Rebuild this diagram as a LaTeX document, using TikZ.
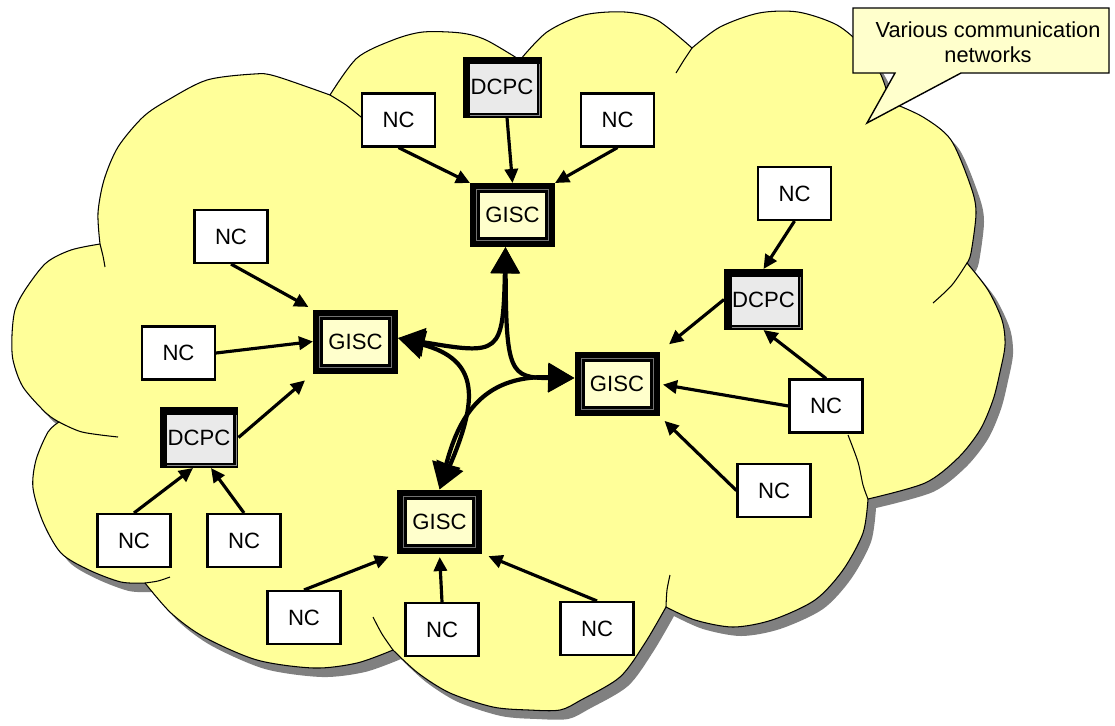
\documentclass[tikz,border=0pt]{standalone}
\usepackage{fontspec}
\setmainfont{Liberation Sans}
\usetikzlibrary{arrows.meta}
\definecolor{cloudfill}{HTML}{FFFF99}
\definecolor{paleyellow}{HTML}{FFFFCC}
\definecolor{dcpcgray}{HTML}{EAEAEA}
\definecolor{shadowgray}{HTML}{808080}
\tikzset{
  nc/.style    = {rectangle, draw=black, line width=1.2pt, fill=white,
                  minimum width=1.46cm, minimum height=1.06cm, inner sep=0pt,
                  font=\fontsize{12.6}{14.4}\selectfont},
  gisc/.style  = {rectangle, fill=black, minimum width=1.7cm, minimum height=1.28cm,
                  inner sep=0pt, outer sep=0pt, font=\fontsize{12.6}{14.4}\selectfont,
                  path picture={
                    \draw[black!55, line width=0.4pt]
                      ([xshift=0.13cm,yshift=0.13cm]path picture bounding box.south west) rectangle
                      ([xshift=-0.13cm,yshift=-0.13cm]path picture bounding box.north east);
                    \fill[paleyellow]
                      ([xshift=0.2cm,yshift=0.2cm]path picture bounding box.south west) rectangle
                      ([xshift=-0.2cm,yshift=-0.2cm]path picture bounding box.north east);}},
  dcpc/.style  = {rectangle, fill=black, minimum width=1.58cm, minimum height=1.22cm,
                  inner sep=0pt, outer sep=0pt, font=\fontsize{12.6}{14.4}\selectfont,
                  path picture={
                    \fill[dcpcgray]
                      ([xshift=0.15cm,yshift=0.1cm]path picture bounding box.south west) rectangle
                      ([xshift=-0.1cm,yshift=-0.15cm]path picture bounding box.north east);
                    \draw[black!45, line width=0.4pt]
                      ([xshift=0.15cm,yshift=0.05cm]path picture bounding box.south west) -|
                      ([xshift=-0.05cm,yshift=-0.15cm]path picture bounding box.north east);}},
  feed/.style  = {-{Triangle[length=8pt,width=7.5pt]}, line width=1.8pt},
  trunk/.style = {{Triangle[length=15pt,width=16pt]}-{Triangle[length=15pt,width=16pt]},
                  line width=2.4pt},
  cloudedge/.style = {draw=black, line width=0.6pt},
  callout/.style   = {fill=paleyellow, draw=black, line width=0.8pt},
}
% outline of the network cloud, one smooth piece per lobe
\newcommand\cloudoutline{%
  plot[smooth] coordinates {(59,422) (46,413) (23,387) (13,360) (12,335) (15,310) (25,290) (46,263) (71,250) (100,244)}
  -- plot[smooth] coordinates {(100,244) (98,213) (104,180) (118,147) (143,117) (168,100) (207,80) (254,74) (275,76) (330,95)}
  -- plot[smooth] coordinates {(330,95) (357,58) (393,40) (423,32) (461,33) (486,40) (520,60)}
  -- plot[smooth] coordinates {(520,60) (547,32) (584,15) (625,12) (657,20) (692,48)}
  -- plot[smooth] coordinates {(692,48) (720,27) (759,13) (798,12) (837,25) (864,48) (881,75) (890,102)}
  -- plot[smooth] coordinates {(890,102) (923,117) (951,140) (971,187) (976,213) (971,253) (967,263)}
  -- plot[smooth] coordinates {(967,263) (988,290) (1002,320) (1005,345) (1000,372) (993,400) (980,430) (958,458) (925,483) (868,499)}
  -- plot[smooth] coordinates {(868,499) (863,533) (843,570) (815,600) (772,620) (733,627) (695,620) (666,607)}
  -- plot[smooth] coordinates {(666,607) (645,643) (620,677) (581,700) (560,710) (529,710) (493,707) (450,693) (418,673) (393,650)}
  -- plot[smooth] coordinates {(393,650) (357,663) (314,668) (257,660) (204,637) (171,613) (145,583)}
  -- plot[smooth] coordinates {(145,583) (121,582) (89,570) (61,553) (43,522) (33,488) (36,460) (48,432) (59,422)}
  -- cycle}

\begin{document}
\begin{tikzpicture}[x=0.02cm, y=-0.02cm]
  \useasboundingbox (0,0) rectangle (1115,725);

  % cloud
  \fill[shadowgray, shift={(8,9)}] \cloudoutline;
  \filldraw[fill=cloudfill, cloudedge] \cloudoutline;
  \draw[cloudedge] plot[smooth] coordinates {(100,244) (103,256) (105,267)};
  \draw[cloudedge] plot[smooth] coordinates {(330,95) (346,105) (361,117)};
  \draw[cloudedge] plot[smooth] coordinates {(692,48) (684,60) (676,73)};
  \draw[cloudedge] plot[smooth] coordinates {(967,263) (952,285) (933,303)};
  \draw[cloudedge] plot[smooth] coordinates {(868,499) (863,485) (858,462) (848,435)};
  \draw[cloudedge] plot[smooth] coordinates {(666,607) (667,590) (670,575)};
  \draw[cloudedge] plot[smooth] coordinates {(393,650) (382,634) (373,617)};
  \draw[cloudedge] plot[smooth] coordinates {(145,583) (158,581) (170,577)};
  \draw[cloudedge] plot[smooth] coordinates {(59,422) (82,432) (118,437)};

  % callout
  \filldraw[callout] (853,8) -- (1109,8) -- (1109,73) -- (961,73) -- (867,123) -- (895,73) -- (853,73) -- cycle;
  \node[align=center, inner sep=0pt, font=\fontsize{12.4}{14.4}\selectfont] (note) at (988,42)
    {Various communication\\networks};

  \node[gisc] (gN) at (512.5,215)  {GISC};
  \node[gisc] (gW) at (355.5,341.5) {GISC};
  \node[gisc] (gE) at (617,384)    {GISC};
  \node[gisc] (gS) at (439.5,521.5) {GISC};

  \node[dcpc] (dN) at (502,87)     {DCPC};
  \node[dcpc] (dE) at (763.5,299.5) {DCPC};
  \node[dcpc] (dW) at (199,437.5)  {DCPC};

  \node[nc] (n1)  at (398.5,120)  {NC};
  \node[nc] (n2)  at (617.5,120)  {NC};
  \node[nc] (n3)  at (794.5,193.5) {NC};
  \node[nc] (n4)  at (231,236.5)  {NC};
  \node[nc] (n5)  at (178.5,353)  {NC};
  \node[nc] (n6)  at (826,406)    {NC};
  \node[nc] (n7)  at (774,490.5)  {NC};
  \node[nc] (n8)  at (134,540.5)  {NC};
  \node[nc] (n9)  at (244,540.5)  {NC};
  \node[nc] (n10) at (304,617.5)  {NC};
  \node[nc] (n11) at (442,629.5)  {NC};
  \node[nc] (n12) at (597,628.5)  {NC};

  \draw[feed] (n1.south) -- (gN.north west);
  \draw[feed] ([xshift=0.1cm]dN.south) -- (gN.north);
  \draw[feed] (n2.south) -- (gN.north east);
  \draw[feed, shorten >=3pt] (n4.south) -- (gW.north west);
  \draw[feed] (n5.east) -- (gW.west);
  \draw[feed, shorten >=6pt] (dW.east) -- (gW.south west);
  \draw[feed] (n8.north) -- ([xshift=-0.12cm]dW.south);
  \draw[feed] (n9.north) -- ([xshift=0.24cm]dW.south);
  \draw[feed, shorten >=5pt] (n10.north) -- (gS.south west);
  \draw[feed, shorten >=2pt] (n11.north) -- (gS.south);
  \draw[feed, shorten >=4pt] (n12.north) -- (gS.south east);
  \draw[feed, shorten >=4pt] (n7.west) -- (gE.south east);
  \draw[feed, shorten >=2pt] (n6.west) -- (gE.east);
  \draw[feed] (n6.north) -- (dE.south);
  \draw[feed] (n3.south) -- (dE.north);
  \draw[feed, shorten >=7pt] (dE.west) -- (gE.north east);

  % links between the GISCs
  \draw[trunk] ([yshift=0.07cm]gW.east) .. controls (500,355) and (503,355) .. ([xshift=-0.14cm]gN.south);
  \draw[trunk] ([yshift=0.12cm]gE.west) .. controls (510,378) and (506,372) .. ([xshift=-0.14cm]gN.south);
  \draw[trunk] ([yshift=0.07cm]gW.east) .. controls (480,360) and (478,400) .. (gS.north);
  \draw[trunk] ([yshift=0.12cm]gE.west) .. controls (480,375) and (458,420) .. (gS.north);
\end{tikzpicture}
\end{document}
